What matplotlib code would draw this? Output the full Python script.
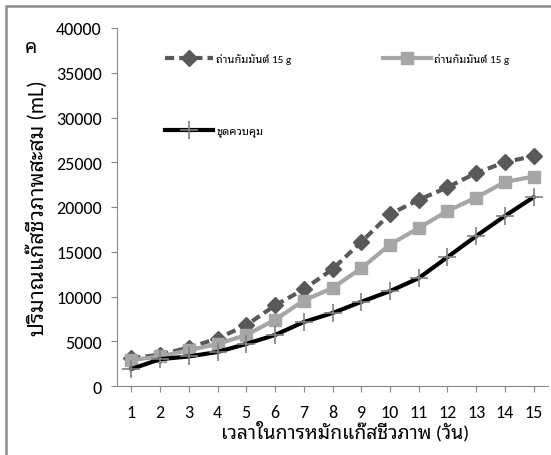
import numpy as np
import matplotlib.pyplot as plt
from matplotlib.patches import Rectangle

plt.rcParams['font.family'] = ['Carlito', 'Noto Sans Thai Looped', 'Noto Sans Thai',
                               'Sarabun', 'DejaVu Sans']

days = list(range(1, 16))
carbon_a = [3100, 3500, 4300, 5300, 6800, 9000, 10800, 13050, 16100, 19200,
            20800, 22200, 23800, 25000, 25700]
carbon_b = [2900, 3300, 4000, 4700, 5700, 7400, 9550, 10950, 13150, 15800,
            17650, 19550, 21050, 22800, 23400]
control = [1900, 3000, 3300, 3800, 4700, 5700, 7150, 8150, 9400, 10600,
           12050, 14400, 16750, 19000, 21100]

lab_a = 'ถ่านกัมมันต์ 15 g'
lab_b = 'ถ่านกัมมันต์ 15 g'
lab_c = 'ชุดควบคุม'

fig = plt.figure(figsize=(5.51, 4.56), dpi=100)
ax = fig.add_axes([117/551, 1-387/456, (548-117)/551, (387-29)/456])

la, = ax.plot(days, carbon_a, color='#595959', lw=3, ls=(0, (2.2, 1.2)),
              marker='D', ms=8.5, mfc='#595959', mec='#595959')
lb, = ax.plot(days, carbon_b, color='#a6a6a6', lw=3,
              marker='s', ms=8, mfc='#a6a6a6', mec='#a6a6a6')
lc, = ax.plot(days, control, color='black', lw=3,
              marker='+', ms=13, mew=1.2, mec='#808080')

ax.set_xlim(0.5, 15.5)
ax.set_ylim(0, 40000)
ax.set_xticks(days)
ax.set_yticks(np.arange(0, 40001, 5000))
ax.tick_params(labelsize=13, length=4, color='#888888')
ax.tick_params(axis='y', pad=7)
ax.tick_params(axis='x', pad=9)
for s in ['top', 'right']:
    ax.spines[s].set_visible(False)
for s in ['left', 'bottom']:
    ax.spines[s].set_color('#888888')

ax.set_xlabel('เวลาในการหมักแก๊สชีวภาพ (วัน)', fontsize=14, labelpad=1)
ax.xaxis.set_label_coords(0.53, -0.095)
ax.set_ylabel('ปริมาณแก๊สชีวภาพสะสม (mL)', fontsize=15.5, labelpad=6)

opts = dict(frameon=False, fontsize=8, handlelength=4.3, handletextpad=0.3,
            borderpad=0, borderaxespad=0, loc='upper left',
            bbox_transform=fig.transFigure)
leg1 = ax.legend([la, lc], [lab_a, lab_c], labelspacing=5.6,
                 bbox_to_anchor=(165/551, 1-54/456), **opts)
ax.add_artist(leg1)
ax.legend([lb], [lab_b], bbox_to_anchor=(383/551, 1-54/456), **opts)

fig.text(25/551, 1-48/456, 'ค', fontsize=14, fontweight='bold', va='center')
fig.patches.append(Rectangle((6/551, -0.05), 1.1, 1.05 - 7/456, transform=fig.transFigure,
                             fill=False, ec='#8c8c8c', lw=1.8))

fig.savefig('out.png', dpi=100)
